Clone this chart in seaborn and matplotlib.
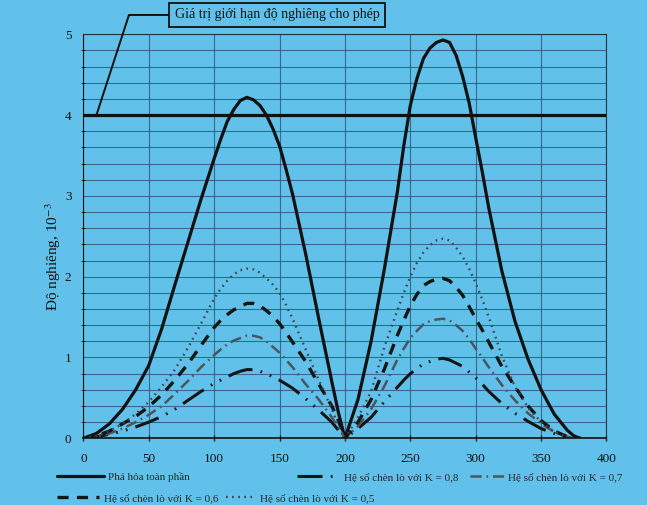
import numpy as np
import pandas as pd
import matplotlib
matplotlib.use("Agg")
import matplotlib.pyplot as plt
import seaborn as sns
from matplotlib.ticker import MultipleLocator

# ---------------- data ----------------
x_pos = [0, 10, 20, 30, 40, 50, 60, 70, 80, 90, 100, 105, 110, 115, 120, 125, 130, 135, 140, 145, 150, 155, 160, 170, 180, 190, 195, 200,
         210, 220, 230, 240, 245, 250, 255, 260, 265, 270, 275, 280, 285, 290, 295, 300, 305, 310, 320, 330, 340, 350, 360, 370, 375, 380]

full = [0, 0.06, 0.18, 0.36, 0.60, 0.90, 1.36, 1.90, 2.43, 2.96, 3.46, 3.70, 3.92, 4.07, 4.18, 4.22, 4.19, 4.12, 4.00, 3.83, 3.62, 3.33, 3.02, 2.28, 1.48, 0.70, 0.32, 0,
        0.48, 1.20, 2.08, 3.04, 3.62, 4.12, 4.45, 4.70, 4.83, 4.90, 4.93, 4.90, 4.74, 4.48, 4.15, 3.72, 3.30, 2.85, 2.07, 1.45, 0.98, 0.60, 0.30, 0.10, 0.03, 0]
k08 = [0, 0.02, 0.05, 0.09, 0.14, 0.20, 0.27, 0.36, 0.47, 0.58, 0.68, 0.72, 0.76, 0.80, 0.83, 0.85, 0.85, 0.83, 0.80, 0.76, 0.72, 0.67, 0.62, 0.49, 0.35, 0.20, 0.10, 0,
       0.12, 0.26, 0.45, 0.63, 0.72, 0.80, 0.86, 0.92, 0.95, 0.98, 0.99, 0.97, 0.93, 0.89, 0.82, 0.75, 0.67, 0.58, 0.43, 0.31, 0.21, 0.12, 0.06, 0.01, 0, 0]
k07 = [0, 0.02, 0.06, 0.12, 0.20, 0.29, 0.40, 0.55, 0.71, 0.88, 1.03, 1.10, 1.16, 1.21, 1.24, 1.27, 1.27, 1.25, 1.20, 1.13, 1.06, 0.97, 0.88, 0.67, 0.48, 0.26, 0.13, 0,
       0.15, 0.36, 0.64, 0.97, 1.11, 1.24, 1.33, 1.41, 1.45, 1.47, 1.48, 1.46, 1.40, 1.33, 1.23, 1.11, 1.00, 0.88, 0.66, 0.47, 0.31, 0.18, 0.08, 0.02, 0, 0]
k06 = [0, 0.03, 0.09, 0.18, 0.27, 0.39, 0.54, 0.72, 0.92, 1.15, 1.37, 1.46, 1.53, 1.59, 1.63, 1.67, 1.67, 1.64, 1.58, 1.51, 1.42, 1.31, 1.19, 0.95, 0.67, 0.40, 0.22, 0,
       0.20, 0.48, 0.85, 1.27, 1.46, 1.64, 1.78, 1.89, 1.94, 1.97, 1.98, 1.95, 1.87, 1.77, 1.63, 1.48, 1.34, 1.19, 0.89, 0.64, 0.40, 0.22, 0.09, 0.02, 0, 0]
k05 = [0, 0.03, 0.09, 0.18, 0.30, 0.45, 0.64, 0.85, 1.12, 1.42, 1.73, 1.85, 1.95, 2.03, 2.08, 2.10, 2.09, 2.05, 1.98, 1.90, 1.80, 1.65, 1.48, 1.10, 0.72, 0.36, 0.16, 0,
       0.26, 0.58, 1.12, 1.58, 1.80, 2.00, 2.17, 2.30, 2.39, 2.45, 2.47, 2.45, 2.36, 2.25, 2.10, 1.92, 1.72, 1.50, 1.02, 0.64, 0.38, 0.20, 0.08, 0.01, 0, 0]

limit_value = 4
series_names = ["Phá hỏa toàn phần",
                "Hệ số chèn lò với K = 0,8",
                "Hệ số chèn lò với K = 0,7",
                "Hệ số chèn lò với K = 0,6",
                "Hệ số chèn lò với K = 0,5"]
annot_text = "Giá trị giới hạn độ nghiêng cho phép"
ylabel = "Độ nghiêng, 10$^{-3}$"
x_ticks = [0, 50, 100, 150, 200, 250, 300, 350, 400]
y_ticks = [0, 1, 2, 3, 4, 5]

# ---------------- style ----------------
BG = "#62c1ea"
GRID = "#2f5274"
sns.set_theme(style="white")
plt.rcParams["font.family"] = ["Liberation Serif", "DejaVu Serif"]
plt.rcParams["mathtext.fontset"] = "stix"
plt.rcParams["lines.scale_dashes"] = False

fig = plt.figure(figsize=(6.47, 5.05), dpi=100, facecolor=BG)
ax = fig.add_axes([0.1288, 0.1321, 0.8086, 0.7999])
ax.set_facecolor(BG)

styles = [
    dict(color="#111111", lw=2.3, linestyle="-"),
    dict(color="#151515", lw=2.2, linestyle=(0, (18, 6, 1.2, 6, 1.2, 6))),
    dict(color="#4a5560", lw=1.8, linestyle=(0, (8, 3.5, 1.2, 3.5))),
    dict(color="#151515", lw=2.4, linestyle=(0, (8, 6))),
    dict(color="#3a4650", lw=1.7, linestyle=(0, (1.2, 3.2))),
]
all_series = [full, k08, k07, k06, k05]

df = pd.DataFrame({"x": x_pos})
handles = []
for name, vals, st in zip(series_names, all_series, styles):
    df[name] = vals
    sns.lineplot(x=df["x"], y=df[name], ax=ax, sort=False, **st)
    handles.append(ax.get_lines()[-1])

ax.axhline(limit_value, color="#111111", lw=2.3)

ax.set_xlim(0, 400)
ax.set_ylim(0, 5)
ax.set_xticks(x_ticks)
ax.set_yticks(y_ticks)
ax.yaxis.set_minor_locator(MultipleLocator(0.2))
ax.xaxis.set_minor_locator(MultipleLocator(50))
ax.grid(which="both", color=GRID, lw=0.8, alpha=0.8)
ax.set_axisbelow(True)
for s in ax.spines.values():
    s.set_color("#223344")
    s.set_linewidth(0.8)
ax.spines["left"].set_color("#111111")
ax.spines["bottom"].set_color("#111111")
ax.spines["bottom"].set_linewidth(1.2)
ax.tick_params(axis="both", which="major", direction="inout", length=5, width=0.9,
               labelsize=9.5, colors="#111111", pad=6)
ax.tick_params(axis="y", which="minor", direction="inout", length=3, width=0.7, left=True)
ax.tick_params(axis="x", which="major", bottom=True, pad=8)
ax.set_xlabel("")
ax.set_ylabel(ylabel, fontsize=11, color="#111111")
ax.yaxis.set_label_coords(-0.038, 0.45)

# annotation for the limit line
ax.annotate(annot_text, xy=(10, limit_value), xytext=(148, 5.24), textcoords="data",
            ha="center", va="center", fontsize=10, color="#111111", annotation_clip=False,
            bbox=dict(boxstyle="square,pad=0.4", fc=BG, ec="#111111", lw=1.3),
            arrowprops=dict(arrowstyle="-", color="#111111", lw=1.4,
                            connectionstyle="angle,angleA=0,angleB=72,rad=0",
                            shrinkA=0, shrinkB=0))

# legend (flowing layout like the original)
pos = [(0.088, 0.055, 4.2), (0.459, 0.055, 3.8), (0.727, 0.055, 3.0),
       (0.088, 0.014, 3.8), (0.350, 0.014, 2.6)]
for h, name, (px, py, hl) in zip(handles, series_names, pos):
    fig.legend(handles=[h], labels=[name], loc="center left", bbox_to_anchor=(px, py),
               frameon=False, borderpad=0, borderaxespad=0, handlelength=hl,
               handletextpad=0.4, fontsize=8)

fig.savefig("out.png", dpi=100, facecolor=BG)
